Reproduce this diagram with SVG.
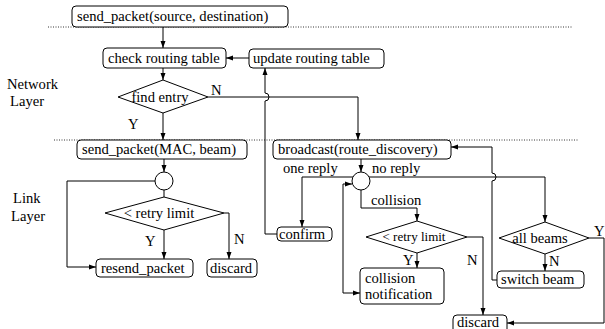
<svg xmlns="http://www.w3.org/2000/svg" width="605" height="329" viewBox="0 0 605 329">
<defs>
<marker id="ah" markerWidth="8" markerHeight="6" refX="7" refY="3" orient="auto" markerUnits="userSpaceOnUse">
<path d="M0,0.5 L7,3 L0,5.5 Z" fill="#000"/>
</marker>
</defs>
<style>
text{font-family:"Liberation Serif",serif;font-size:14.6px;fill:#000}
text.sm{font-size:13px}
.box{fill:#fff;stroke:#000;stroke-width:1}
.ln{fill:none;stroke:#000;stroke-width:1}
.ar{fill:none;stroke:#000;stroke-width:1;marker-end:url(#ah)}
.dot{fill:none;stroke:#000;stroke-width:0.8;stroke-dasharray:1 1.5}
</style>
<rect width="605" height="329" fill="#fff"/>
<g id="separators">
<line class="dot" x1="48" y1="27" x2="572" y2="27"/>
<line class="dot" x1="54" y1="140" x2="578" y2="140"/>
</g>
<g id="layer-labels">
<text x="7" y="89">Network</text>
<text x="10" y="106">Layer</text>
<text x="13" y="203">Link</text>
<text x="11" y="221">Layer</text>
</g>
<g id="connectors">
<path class="ar" d="M163,27 V48"/>
<path class="ar" d="M249,58 H226"/>
<path class="ar" d="M163,68 V80"/>
<path class="ar" d="M208,97 H358 V140"/>
<path class="ar" d="M163,113 V140"/>
<path class="ar" d="M164,159 V172"/>
<path class="ar" d="M155,181 H67 V267 H96"/>
<path class="ln" d="M164,190 V197"/>
<path class="ar" d="M164,230 V259"/>
<path class="ar" d="M224,213 H229 V259"/>
<path class="ar" d="M277,234 H265 V101 A4,4 0 0 0 265,93 V68"/>
<path class="ar" d="M361,159 V172"/>
<path class="ar" d="M353,177 H302 V227"/>
<path class="ar" d="M343,293 V184 H352"/>
<path class="ar" d="M343,293 H360"/>
<path class="ar" d="M369,177 H545 V222"/>
<path class="ar" d="M361,190 V208 H417 V221"/>
<path class="ar" d="M417,253 V268"/>
<path class="ar" d="M467,237 H483 V315"/>
<path class="ar" d="M545,254 V271"/>
<path class="ar" d="M589,238 H604 V323 H507"/>
<path class="ar" d="M497,280 H492 V181 A4,4 0 0 0 492,173 V147 H451"/>
</g>
<g id="labels">
<text x="211" y="95">N</text>
<text x="128" y="129">Y</text>
<text x="145" y="246">Y</text>
<text x="234" y="244">N</text>
<text x="283" y="173">one reply</text>
<text x="372" y="173">no reply</text>
<text x="371" y="205">collision</text>
<text x="403" y="265">Y</text>
<text x="467" y="265">N</text>
<text x="549" y="266">N</text>
<text x="594" y="236">Y</text>
</g>
<g id="send_packet_src">
<rect class="box" x="72" y="6" width="216" height="21" rx="4"/>
<text x="77" y="21">send_packet(source, destination)</text>
</g>
<g id="check_routing">
<rect class="box" x="103" y="48" width="123" height="20" rx="4"/>
<text x="108" y="63">check routing table</text>
</g>
<g id="update_routing">
<rect class="box" x="249" y="49" width="135" height="19" rx="4"/>
<text x="253" y="63">update routing table</text>
</g>
<g id="find_entry">
<polygon class="box" points="163,80 208,97 163,113 118,97"/>
<text x="160" y="102" text-anchor="middle">find entry</text>
</g>
<g id="send_packet_mac">
<rect class="box" x="77" y="140" width="170" height="19" rx="4"/>
<text x="82" y="154">send_packet(MAC, beam)</text>
</g>
<g id="link_junction">
<circle class="box" cx="164" cy="181" r="9"/>
</g>
<g id="retry_limit_1">
<polygon class="box" points="164,197 224,213 164,230 105,213"/>
<text x="159" y="218" text-anchor="middle">&lt; retry limit</text>
</g>
<g id="resend_packet">
<rect class="box" x="96" y="259" width="97" height="18" rx="4"/>
<text x="101" y="273">resend_packet</text>
</g>
<g id="discard_1">
<rect class="box" x="207" y="259" width="50" height="18" rx="4"/>
<text x="210" y="273">discard</text>
</g>
<g id="broadcast">
<rect class="box" x="273" y="140" width="178" height="19" rx="4"/>
<text x="278" y="154">broadcast(route_discovery)</text>
</g>
<g id="reply_junction">
<circle class="box" cx="361" cy="181" r="9"/>
</g>
<g id="confirm">
<rect class="box" x="277" y="227" width="55" height="14" rx="4"/>
<text x="279" y="239">confirm</text>
</g>
<g id="retry_limit_2">
<polygon class="box" points="417,221 467,237 417,253 366,237"/>
<text x="414" y="241" class="sm" text-anchor="middle">&lt; retry limit</text>
</g>
<g id="collision_notification">
<rect class="box" x="360" y="268" width="84" height="36" rx="4"/>
<text x="365" y="283">collision</text>
<text x="365" y="299">notification</text>
</g>
<g id="all_beams">
<polygon class="box" points="545,222 589,238 545,254 499,238"/>
<text x="540" y="243" text-anchor="middle">all beams</text>
</g>
<g id="switch_beam">
<rect class="box" x="497" y="271" width="87" height="17" rx="4"/>
<text x="501" y="284">switch beam</text>
</g>
<g id="discard_2">
<rect class="box" x="453" y="315" width="54" height="20" rx="4"/>
<text x="457" y="327">discard</text>
</g>
</svg>
